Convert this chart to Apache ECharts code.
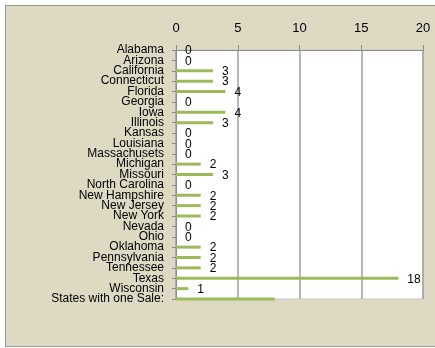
<!DOCTYPE html>
<html>
<head>
<meta charset="utf-8">
<script src="https://cdn.jsdelivr.net/npm/echarts@6/dist/echarts.min.js"></script>
<style>
    html, body { margin: 0; padding: 0; background: #fff; overflow: hidden; }
    #panel { position: absolute; left: 5px; top: 5px; width: 600px; height: 340px;
             background: #DDD9C3; border: 1px solid #9a9a9a; }
    #charts { position: absolute; left: 0; top: 0; width: 435px; height: 348px; }
</style>
</head>
<body>
<div id="panel"></div>
<div id="charts"></div>
<script>
var states = ['Alabama', 'Arizona', 'California', 'Connecticut', 'Florida', 'Georgia', 'Iowa',
    'Illinois', 'Kansas', 'Louisiana', 'Massachusets', 'Michigan', 'Missouri', 'North Carolina',
    'New Hampshire', 'New Jersey', 'New York', 'Nevada', 'Ohio', 'Oklahoma', 'Pennsylvania',
    'Tennessee', 'Texas', 'Wisconsin', 'States with one Sale:'];
var sales = [0, 0, 3, 3, 4, 0, 4, 3, 0, 0, 0, 2, 3, 0, 2, 2, 2, 0, 0, 2, 2, 2, 18, 1, 8];
var xTicks = [0, 5, 10, 15, 20];

var myChart = echarts.init(document.getElementById('charts'));
var font = 'Liberation Sans';

// last bar ("States with one Sale:") has no value label in the original
var barData = sales.map(function (v, i) {
    if (i === sales.length - 1) {
        return { value: v, label: { show: false } };
    }
    return v;
});

var option = {
    backgroundColor: 'transparent',
    animation: false,
    grid: {
        left: 176, top: 50, right: 12, bottom: 49,
        show: true,
        backgroundColor: '#ffffff',
        borderColor: '#c8c8c8',
        borderWidth: 1
    },
    xAxis: {
        type: 'value',
        position: 'top',
        min: xTicks[0],
        max: xTicks[xTicks.length - 1],
        interval: 5,
        axisLine: { show: true, lineStyle: { color: '#8c8c8c', width: 1 } },
        axisTick: { show: true, length: 5, lineStyle: { color: '#8c8c8c' } },
        splitLine: { show: true, lineStyle: { color: '#a0a0a0', width: 1.5 } },
        axisLabel: { color: '#000', fontFamily: font, fontSize: 13, margin: 15 }
    },
    yAxis: {
        type: 'category',
        inverse: true,
        boundaryGap: false,
        data: states,
        axisLine: { show: true, lineStyle: { color: '#8c8c8c', width: 1 } },
        axisTick: { show: true, length: 4, alignWithLabel: true, lineStyle: { color: '#8c8c8c' } },
        axisLabel: { color: '#000', fontFamily: font, fontSize: 12, margin: 12, interval: 0,
                     lineHeight: 11 }
    },
    series: [
        {
            type: 'bar',
            data: barData,
            barWidth: 3,
            itemStyle: { color: '#9BBB59' },
            label: {
                show: true,
                position: 'right',
                distance: 9,
                offset: [0, 1],
                color: '#000',
                fontFamily: font,
                fontSize: 12
            }
        }
    ]
};

myChart.setOption(option);
</script>
</body>
</html>
